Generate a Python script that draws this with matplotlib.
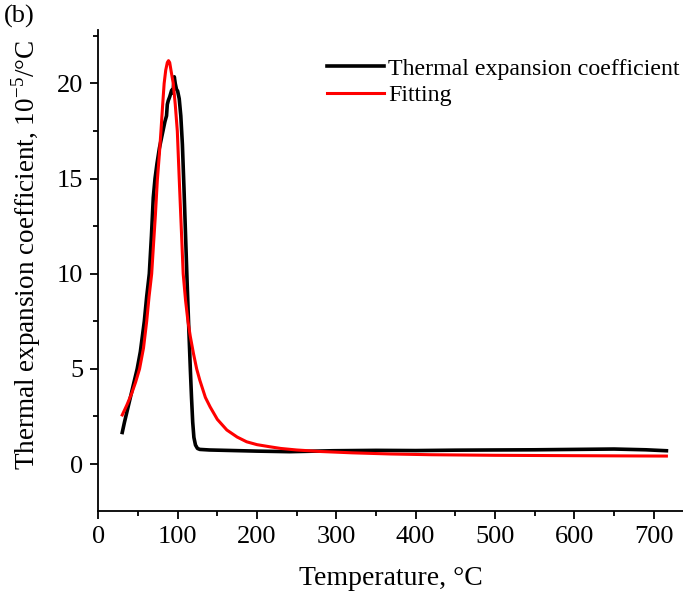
import matplotlib
matplotlib.use("Agg")
import matplotlib.pyplot as plt
from matplotlib.ticker import MultipleLocator

plt.rcParams['font.family'] = ['Liberation Serif', 'DejaVu Serif']
plt.rcParams['mathtext.fontset'] = 'custom'
plt.rcParams['mathtext.rm'] = 'Liberation Serif'

measT = [30.2, 33, 37, 41, 45, 49, 53, 58, 61, 64.3, 67, 69.3, 71.5, 74, 77,
         80, 82, 84, 86, 87, 88.2, 90, 92.5, 94, 95.8, 97, 98.5, 100, 102,
         104, 106, 108, 110, 112, 114, 116, 117.5, 119, 120.5, 122.5, 125, 128,
         140, 160, 200, 241, 296, 350, 400, 450, 494, 550, 600, 650, 690, 716]
measV = [1.66, 2.2, 2.9, 3.6, 4.3, 5.0, 5.9, 7.5, 8.8, 10.0, 12.0, 14.0, 15.0, 15.8, 16.6,
         17.2, 17.6, 18.0, 18.3, 18.9, 19.1, 19.3, 19.65, 19.5, 20.35, 20.0, 19.7, 19.6, 19.2,
         18.3, 16.8, 14.5, 12.0, 9.5, 7.2, 5.0, 3.5, 2.2, 1.4, 1.0, 0.82, 0.77,
         0.74, 0.72, 0.68, 0.65, 0.70, 0.72, 0.71, 0.73, 0.74, 0.75, 0.77, 0.79, 0.75, 0.70]

# fitted curve
fitT = [30.2, 36, 42, 47, 52, 57, 61, 64, 67.3, 70, 72, 74.4, 77, 79, 81, 83, 85, 87,
        88.5, 90, 92, 94.5, 97, 99.6, 102, 104.5, 107, 110, 113, 116, 120, 124, 128,
        135, 141, 150, 162, 175, 187, 200, 216, 230, 250, 280, 320, 368, 420, 500,
        600, 716]
fitV = [2.58, 3.1, 3.7, 4.3, 5.0, 6.1, 7.5, 8.8, 10.0, 11.8, 13.1, 14.9, 16.3, 17.5, 18.8, 20.0, 20.7, 21.1,
        21.2, 21.1, 20.6, 20.0, 18.9, 17.5, 15.0, 12.5, 10.0, 8.6, 7.5, 6.7, 5.8, 5.0, 4.4,
        3.5, 3.0, 2.35, 1.79, 1.42, 1.17, 1.02, 0.91, 0.82, 0.74, 0.66, 0.59, 0.53, 0.49, 0.46,
        0.44, 0.42]

fig = plt.figure(figsize=(6.83, 6.04), dpi=100)
ax = fig.add_axes([0.1439, 0.1545, 0.8562, 0.7955])

ax.plot(measT, measV, color='black', lw=2.6, label='Thermal expansion coefficient')
ax.plot(fitT, fitV, color='red', lw=2.2, label='Fitting')

ax.set_xlim(0, 737)
ax.set_ylim(-2.45, 22.8)
ax.xaxis.set_major_locator(MultipleLocator(100))
ax.xaxis.set_minor_locator(MultipleLocator(50))
ax.yaxis.set_major_locator(MultipleLocator(5))
ax.yaxis.set_minor_locator(MultipleLocator(2.5))

for s in ['top', 'right']:
    ax.spines[s].set_visible(False)
for s in ['left', 'bottom']:
    ax.spines[s].set_linewidth(1.3)
ax.tick_params(which='major', direction='out', length=6, width=1.3, labelsize=19, pad=5)
ax.tick_params(which='minor', direction='out', length=3.5, width=1.3)

ax.set_xlabel('Temperature, °C', fontsize=20, labelpad=13)
ax.set_ylabel(r'Thermal expansion coefficient, 10$^{\mathregular{-5}}$/°C', fontsize=19.5)
ax.yaxis.set_label_coords(-0.095, 0.532)

ax.legend(loc='upper right', bbox_to_anchor=(1.01, 0.962), frameon=False, fontsize=17.2,
          handlelength=2.4, handletextpad=0.15, labelspacing=0.2, borderaxespad=0.0)

fig.text(0.006, 0.992, '(b)', fontsize=19, va='top', ha='left')

fig.savefig('out.png', dpi=100)
